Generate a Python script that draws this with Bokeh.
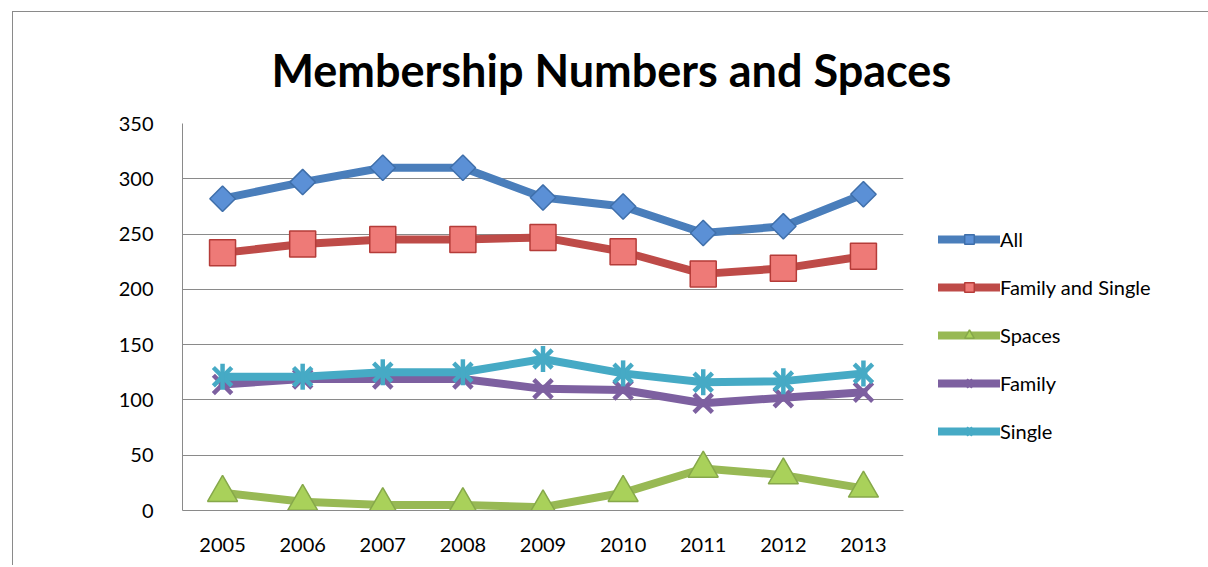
import math
from bokeh.plotting import figure
from bokeh.models import (FactorRange, Range1d, FixedTicker, Legend, LegendItem, Title)
from bokeh.embed import file_html
from bokeh.resources import INLINE

years = ["2005", "2006", "2007", "2008", "2009", "2010", "2011", "2012", "2013"]
all_vals = [282, 297, 310, 310, 283, 275, 251, 257, 286]
family_single = [233, 241, 245, 245, 247, 234, 214, 219, 230]
spaces = [16, 8, 5, 5, 3, 16, 38, 32, 20]
family = [114, 119, 119, 119, 110, 109, 97, 102, 107]
single = [121, 121, 125, 125, 137, 124, 116, 117, 124]
y_ticks = [0, 50, 100, 150, 200, 250, 300, 350]

FONT = "Lato"

p = figure(x_range=FactorRange(*years), y_range=Range1d(0, 350),
           frame_width=721, frame_height=387, output_backend="svg", toolbar_location=None,
           min_border_left=169, min_border_right=0, min_border_top=111, min_border_bottom=55,
           title=None)
p.styles = {"margin-left": "12px", "margin-top": "11px",
            "border-left": "1px solid #8a8a8a", "border-top": "1px solid #8a8a8a"}

t = Title(text="Membership Numbers and Spaces", align="left", offset=89,
          text_font=FONT, text_font_size="45px", text_font_style="bold",
          text_color="black", standoff=54)
p.add_layout(t, "above")

p.outline_line_color = None
p.xgrid.visible = False
p.ygrid.grid_line_color = "#8a8a8a"
p.ygrid.grid_line_width = 1
p.yaxis.ticker = FixedTicker(ticks=y_ticks)
for ax in (p.xaxis, p.yaxis):
    ax.axis_line_color = "#8a8a8a"
    ax.axis_line_width = 1
    ax.major_tick_line_color = None
    ax.minor_tick_line_color = None
    ax.major_label_text_font = FONT
    ax.major_label_text_font_size = "20px"
    ax.major_label_text_color = "black"
p.yaxis.major_label_standoff = 23
p.xaxis.major_label_standoff = 21

series = [
    ("All", all_vals, "#4A7EBB", "#5B90D6", "#3F6FAA", "square", math.pi / 4, 18),
    ("Family and Single", family_single, "#BE4B48", "#EE7A77", "#B53C39", "square", 0, 26),
    ("Spaces", spaces, "#98B954", "#A9D15A", "#86A84A", "triangle", 0, 30),
    ("Family", family, "#7D60A0", "#7D60A0", "#7D60A0", "x", 0, 26),
    ("Single", single, "#46AAC5", "#46AAC5", "#46AAC5", "x", 0, 26),
]

items = []
for name, vals, lc, fc, ec, marker, ang, sz in series:
    r_line = p.line(years, vals, line_color=lc, line_width=8, line_join="round", line_cap="round")
    if marker == "x":
        r_m = p.scatter(years, vals, marker="x", size=sz, line_color=fc, line_width=4.5)
        rs = [r_line, r_m]
        if name == "Single":
            r_d = p.scatter(years, vals, marker="dash", angle=math.pi / 2, size=sz,
                            line_color=fc, line_width=4.5)
            rs.append(r_d)
    else:
        r_m = p.scatter(years, vals, marker=marker, angle=ang, size=sz,
                        fill_color=fc, line_color=ec, line_width=1.5)
        rs = [r_line, r_m]
    items.append(LegendItem(label=name, renderers=rs))

legend = Legend(items=items, location=(35, 67), orientation="vertical",
                label_text_font=FONT, label_text_font_size="20px", label_text_color="black",
                glyph_width=62, glyph_height=24, label_height=24, spacing=24,
                label_standoff=0, padding=0, margin=0,
                border_line_color=None, background_fill_alpha=0)
p.add_layout(legend, "right")

open("out.html", "w").write(file_html(p, INLINE))
